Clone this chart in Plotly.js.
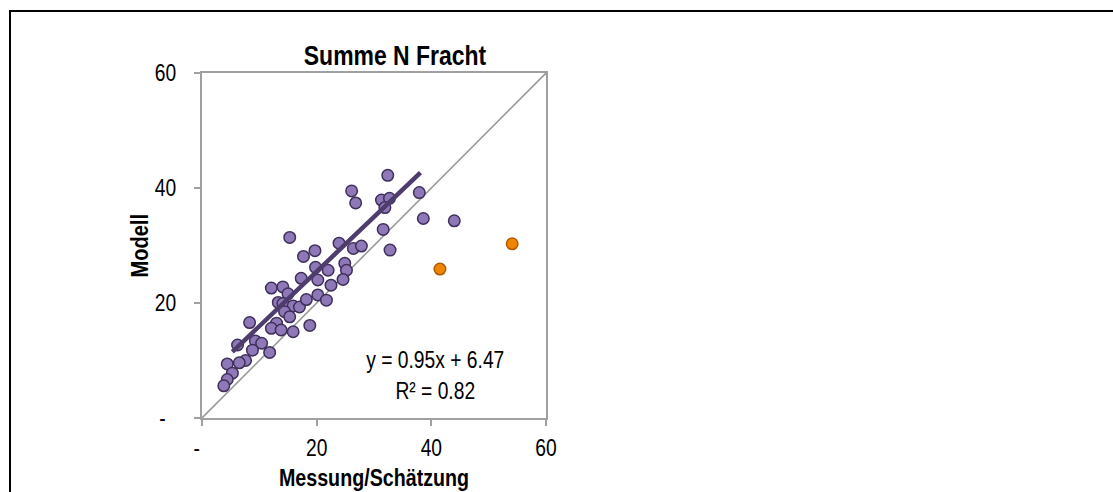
<!DOCTYPE html>
<html>
<head>
<meta charset="utf-8">
<script src="https://cdn.plot.ly/plotly-3.0.1.min.js"></script>
<style>
html,body{margin:0;padding:0;background:#fff;}
#wrap{position:relative;width:1113px;height:492px;overflow:hidden;}
#chart{width:1113px;height:492px;}
#frame{position:absolute;left:9px;top:10px;width:2000px;height:2000px;border-top:2px solid #000;border-left:2px solid #000;pointer-events:none;}
</style>
</head>
<body>
<div id="wrap"><div id="chart"></div><div id="frame"></div></div>
<script>
// Purple series (Messung/Schätzung vs Modell)
var measX = [32.4, 26.1, 26.8, 31.3, 32.7, 31.9, 37.9, 38.6, 44.0, 31.6,
             15.3, 23.9, 26.4, 27.8, 32.8, 17.7, 19.7, 24.9, 25.2, 24.6,
             19.8, 22.0, 17.3, 20.2, 22.5, 12.1, 14.1, 15.0, 13.3, 14.1,
             15.9, 17.0, 18.2, 20.2, 21.7, 14.4, 15.3, 13.0, 12.1, 13.8,
             15.9, 18.8, 8.3, 9.3, 10.4, 6.2, 8.8, 11.8, 7.6, 6.5,
             4.4, 5.3, 4.4, 3.8];
var modelY = [42.2, 39.5, 37.4, 37.9, 38.2, 36.6, 39.2, 34.7, 34.3, 32.8,
              31.4, 30.4, 29.5, 29.9, 29.2, 28.1, 29.1, 26.9, 25.7, 24.1,
              26.2, 25.7, 24.3, 24.0, 23.1, 22.6, 22.8, 21.6, 20.1, 19.9,
              19.5, 19.3, 20.6, 21.4, 20.5, 18.5, 17.6, 16.5, 15.6, 15.3,
              15.0, 16.1, 16.6, 13.4, 13.0, 12.7, 11.8, 11.4, 10.0, 9.6,
              9.4, 7.8, 6.7, 5.6];
// Orange outliers
var outX = [41.5, 54.1];
var outY = [25.9, 30.3];
// Linear trend y = slope*x + intercept
var slope = 0.95, intercept = 6.47, r2 = 0.82;
var trendX = [5.3, 38.1];
var trendY = trendX.map(function(x){ return slope * x + intercept; });
// 1:1 line
var diagX = [0, 60];
var diagY = [0, 60];
var tickVals = [0, 20, 40, 60];
var tickText = ["-\u00a0\u00a0", "20", "40", "60"];

var traces = [
  {x: diagX, y: diagY, mode: 'lines', line: {color: '#9a9a9a', width: 1.6}, hoverinfo: 'skip', showlegend: false},
  {x: measX, y: modelY, mode: 'markers', showlegend: false,
   marker: {size: 11.5, color: '#8f78b8', line: {color: '#3e2f5a', width: 1.5}}},
  {x: trendX, y: trendY, mode: 'lines', line: {color: '#4e3c6c', width: 4.5}, showlegend: false},
  {x: outX, y: outY, mode: 'markers', showlegend: false,
   marker: {size: 11.5, color: '#f28500', line: {color: '#b05a00', width: 1.5}}}
];

var font = "'Liberation Sans', Arial, sans-serif";
var layout = {
  width: 1113, height: 492,
  margin: {l: 202, r: 567, t: 73, b: 74},
  paper_bgcolor: '#fff', plot_bgcolor: '#fff',
  font: {family: font, color: '#000'},
  showlegend: false,
  title: {text: '<b>Summe N Fracht</b>', font: {family: font, size: 28, color: '#000'},
          xref: 'paper', xanchor: 'center', yref: 'container', yanchor: 'middle'},
  xaxis: {range: [0, 60], tickvals: tickVals, ticktext: tickText,
          showgrid: false, zeroline: false, showline: true, mirror: true,
          linecolor: '#a0a0a0', linewidth: 2,
          ticks: 'outside', ticklen: 6, tickwidth: 2, tickcolor: '#a0a0a0',
          tickfont: {family: font, size: 23.5, color: '#000'}, ticklabelstandoff: 2,
          title: {text: '<b>Messung/Schätzung</b>', font: {family: font, size: 24, color: '#000'}, standoff: 9},
          automargin: false, fixedrange: true},
  yaxis: {range: [0, 60], tickvals: tickVals, ticktext: tickText,
          showgrid: false, zeroline: false, showline: true, mirror: true,
          linecolor: '#a0a0a0', linewidth: 2,
          ticks: 'outside', ticklen: 6, tickwidth: 2, tickcolor: '#a0a0a0',
          tickfont: {family: font, size: 23.5, color: '#000'}, ticklabelstandoff: 13,
          automargin: false, fixedrange: true},
  annotations: [
    {xref: 'x', yref: 'y', x: 40.8, y: 7.4, showarrow: false, xanchor: 'center', yanchor: 'middle',
     align: 'center',
     text: 'y = ' + slope.toFixed(2) + 'x + ' + intercept.toFixed(2) + '<br>R² = ' + r2.toFixed(2),
     font: {family: font, size: 23.5, color: '#000'}},
    {xref: 'paper', yref: 'paper', x: -0.183, y: 0.5, showarrow: false, textangle: -90,
     xanchor: 'center', yanchor: 'middle',
     text: '<b>Modell</b>', font: {family: font, size: 24.5, color: '#000'}}
  ]
};
layout.title.x = (395 - 202) / (1113 - 202 - 567);
layout.title.y = 1 - 55 / 492;

Plotly.newPlot('chart', traces, layout, {displayModeBar: false, staticPlot: true}).then(function(gd){
  // emulate the narrow typeface of the original by condensing text horizontally
  var s = 0.82;
  var texts = gd.querySelectorAll('svg text');
  Array.prototype.forEach.call(texts, function(t){
    if (!t.textContent.replace(/\s/g, '')) return;
    var bb = t.getBBox();
    var anchor = t.getAttribute('text-anchor') || window.getComputedStyle(t).textAnchor;
    var cx = anchor === 'end' ? bb.x + bb.width : (anchor === 'middle' ? bb.x + bb.width / 2 : bb.x);
    var tr = t.getAttribute('transform') || '';
    t.setAttribute('transform', tr + ' translate(' + cx + ',0) scale(' + s + ',1) translate(' + (-cx) + ',0)');
  });
});
</script>
</body>
</html>
